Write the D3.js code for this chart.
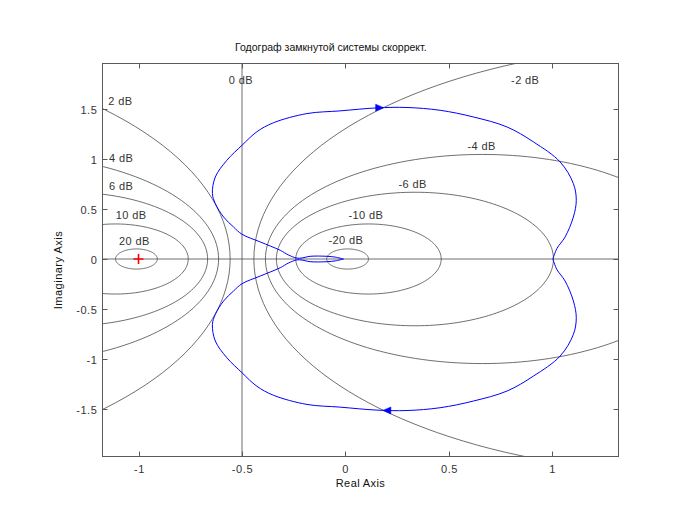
<!DOCTYPE html>
<html><head><meta charset="utf-8">
<script src="https://cdn.jsdelivr.net/npm/d3@7"></script>
<style>
body{margin:0;background:#fff}
text{font-family:"Liberation Sans",Arial,Helvetica,sans-serif}
</style>
</head><body>
<svg id="c" width="682" height="512"></svg>
<script>
// ---- data ----
const title = "Годограф замкнутой системы скоррект.";
const xLabel = "Real Axis";
const yLabel = "Imaginary Axis";
const xTicks = [-1, -0.5, 0, 0.5, 1];
const yTicks = [-1.5, -1, -0.5, 0, 0.5, 1, 1.5];
const xDomain = [-1.174, 1.319];
const yDomain = [-1.98, 1.96];
const dBLevels = [20, 10, 6, 4, 2, 0, -2, -4, -6, -10, -20];
const dBLabelRe = [-1.094, -1.110, -1.142, -1.142, -1.146, -0.564, 0.800, 0.589, 0.256, 0.014, -0.082];
const dBLabelIm = [0.180, 0.440, 0.730, 1.008, 1.582, 1.792, 1.799, 1.133, 0.756, 0.445, 0.188];
// Nyquist curve, upper branch (origin -> over the top -> (1,0))
const upperRe = [-0.010,-0.050,-0.090,-0.171,-0.209,-0.235,-0.277,-0.315,-0.412,-0.500,-0.541,-0.589,-0.629,-0.643,-0.629,-0.573,-0.500,-0.428,-0.348,-0.186,-0.026,0.152,0.297,0.457,0.618,0.780,0.908,1.037,1.101,1.115,1.101,1.061,1.021,1.002];
const upperIm = [0.000,0.019,0.027,0.027,0.011,0.009,0.042,0.087,0.171,0.248,0.321,0.421,0.556,0.656,0.822,0.990,1.140,1.276,1.366,1.458,1.485,1.515,1.519,1.491,1.424,1.324,1.174,0.973,0.756,0.589,0.421,0.221,0.104,0.000];
// lower branch ((1,0) -> under the bottom -> origin)
const lowerRe = [1.002,1.021,1.061,1.101,1.115,1.101,1.037,0.908,0.780,0.618,0.457,0.297,0.152,-0.026,-0.186,-0.348,-0.428,-0.500,-0.573,-0.629,-0.643,-0.629,-0.589,-0.541,-0.500,-0.412,-0.315,-0.277,-0.235,-0.209,-0.171,-0.090,-0.050,-0.010];
const lowerIm = [0.000,-0.104,-0.221,-0.421,-0.589,-0.756,-0.973,-1.174,-1.324,-1.424,-1.491,-1.519,-1.515,-1.485,-1.458,-1.366,-1.276,-1.140,-0.990,-0.822,-0.656,-0.556,-0.421,-0.321,-0.248,-0.171,-0.087,-0.042,-0.009,-0.011,-0.027,-0.027,-0.019,0.000];
const upperArrow = [0.165, 1.517];
const lowerArrow = [0.200, -1.518];
const criticalPoint = [-1, 0];

// ---- layout ----
const L = 102.5, R = 618.5, T = 63.5, B = 456.5;
const svg = d3.select("#c");
const x = d3.scaleLinear().domain(xDomain).range([L, R]);
const y = d3.scaleLinear().domain(yDomain).range([B, T]);
const gridCol = "#4a4a4a", frameCol = "#5a5a5a", textCol = "#333";

svg.append("rect").attr("width", 682).attr("height", 512).attr("fill", "#fff");
svg.append("defs").append("clipPath").attr("id", "clip")
  .append("rect").attr("x", L).attr("y", T).attr("width", R - L).attr("height", B - T);

const plot = svg.append("g").attr("clip-path", "url(#clip)");

// M-circles
const line = d3.line().x(d => x(d[0])).y(d => y(d[1]));
const smooth = d3.line().x(d => x(d[0])).y(d => y(d[1])).curve(d3.curveCatmullRom.alpha(0.5));
const angles = d3.range(0, 361, 2).map(a => a * Math.PI / 180);
dBLevels.forEach(db => {
  if (db === 0) {
    plot.append("line").attr("x1", x(-0.5)).attr("x2", x(-0.5))
      .attr("y1", T).attr("y2", B).attr("stroke", gridCol).attr("stroke-width", 0.8);
    return;
  }
  const M = Math.pow(10, db / 20), M2 = M * M;
  const c = -M2 / (M2 - 1), r = Math.abs(M / (M2 - 1));
  const pts = angles.map(a => [c + r * Math.cos(a), r * Math.sin(a)]);
  plot.append("path").attr("d", line(pts)).attr("fill", "none")
    .attr("stroke", gridCol).attr("stroke-width", 0.8);
});
// real axis
plot.append("line").attr("x1", L).attr("x2", R).attr("y1", y(0)).attr("y2", y(0))
  .attr("stroke", gridCol).attr("stroke-width", 0.8);

// dB labels
dBLevels.forEach((db, i) => {
  svg.append("text").attr("x", x(dBLabelRe[i])).attr("y", y(dBLabelIm[i]) + 4)
    .attr("font-size", 11).attr("fill", textCol).attr("letter-spacing", 0.4)
    .text((db < 0 ? "-" : "") + Math.abs(db) + " dB");
});

// Nyquist curve
const up = upperRe.map((v, i) => [v, upperIm[i]]);
const lo = lowerRe.map((v, i) => [v, lowerIm[i]]);
[up, lo].forEach(pts => {
  plot.append("path").attr("d", smooth(pts)).attr("fill", "none")
    .attr("stroke", "#0000ff").attr("stroke-width", 1);
});
// arrows
function arrow(p, dir) {
  const px = x(p[0]), py = y(p[1]);
  const len = 8, hw = 3.5;
  const pts = [[px + dir * len / 2, py], [px - dir * len / 2, py - hw], [px - dir * len / 2, py + hw]];
  plot.append("path").attr("d", "M" + pts.map(q => q.join(",")).join("L") + "Z")
    .attr("fill", "#0000ff").attr("stroke", "#0000ff").attr("stroke-width", 0.5);
}
arrow(upperArrow, 1);
arrow(lowerArrow, -1);

// critical point
const cx = x(criticalPoint[0]), cy = y(criticalPoint[1]);
svg.append("path").attr("d", `M${cx - 5},${cy}L${cx + 5},${cy}M${cx},${cy - 5}L${cx},${cy + 5}`)
  .attr("stroke", "#ff0000").attr("stroke-width", 1.6);

// frame + ticks
svg.append("rect").attr("x", L).attr("y", T).attr("width", R - L).attr("height", B - T)
  .attr("fill", "none").attr("stroke", frameCol).attr("stroke-width", 1);
const tl = 5;
xTicks.forEach(t => {
  const px = Math.round(x(t)) + 0.5;
  svg.append("line").attr("x1", px).attr("x2", px).attr("y1", B).attr("y2", B - tl).attr("stroke", frameCol);
  svg.append("line").attr("x1", px).attr("x2", px).attr("y1", T).attr("y2", T + tl).attr("stroke", frameCol);
  svg.append("text").attr("x", px).attr("y", B + 16).attr("text-anchor", "middle")
    .attr("font-size", 11).attr("fill", textCol).attr("letter-spacing", 0.6).text(t);
});
yTicks.forEach(t => {
  const py = Math.round(y(t)) + 0.5;
  svg.append("line").attr("x1", L).attr("x2", L + tl).attr("y1", py).attr("y2", py).attr("stroke", frameCol);
  svg.append("line").attr("x1", R).attr("x2", R - tl).attr("y1", py).attr("y2", py).attr("stroke", frameCol);
  svg.append("text").attr("x", L - 5).attr("y", py + 4).attr("text-anchor", "end")
    .attr("font-size", 11).attr("fill", textCol).attr("letter-spacing", 0.6).text(t);
});

// title and axis labels
svg.append("text").attr("x", 235).attr("y", 51).attr("text-anchor", "start")
  .attr("font-size", 10.5).attr("fill", "#111").text(title);
svg.append("text").attr("x", (L + R) / 2).attr("y", 487).attr("text-anchor", "middle")
  .attr("font-size", 11).attr("fill", "#111").attr("letter-spacing", 0.4).text(xLabel);
svg.append("text").attr("transform", `translate(61.5,270) rotate(-90)`)
  .attr("text-anchor", "middle").attr("font-size", 11).attr("fill", "#111")
  .attr("letter-spacing", 0.5).text(yLabel);
</script>
</body></html>
